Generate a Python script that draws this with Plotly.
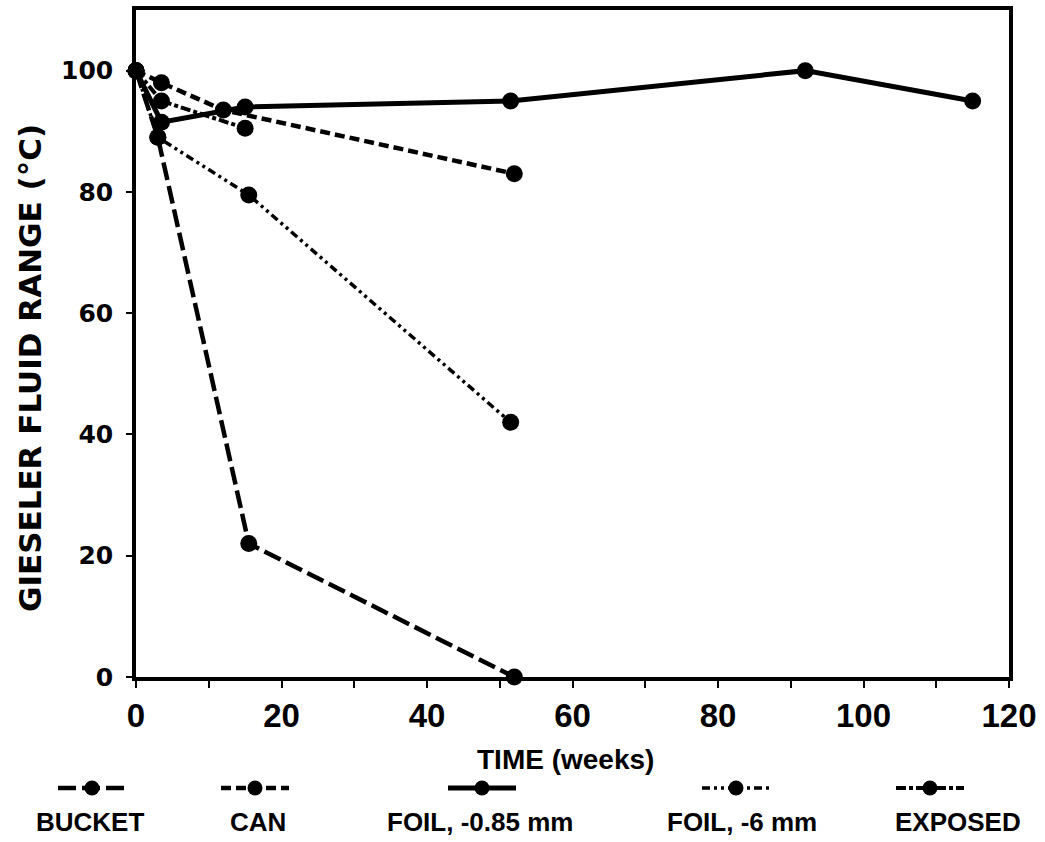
import plotly.graph_objects as go

# ---- data ----
series_names = ["BUCKET", "CAN", "FOIL, -0.85 mm", "FOIL, -6 mm", "EXPOSED"]
bucket_weeks = [0, 3, 15.5, 52]
bucket_range = [100, 89, 22, 0]
can_weeks = [0, 3.5, 12, 52]
can_range = [100, 98, 93.5, 83]
foil085_weeks = [0, 3.5, 15, 51.5, 92, 115]
foil085_range = [100, 91.5, 94, 95, 100, 95]
foil6_weeks = [0, 3, 15.5, 51.5]
foil6_range = [100, 89, 79.5, 42]
exposed_weeks = [0, 3.5, 15]
exposed_range = [100, 95, 90.5]

x_ticks = [0, 20, 40, 60, 80, 100, 120]
y_ticks = [0, 20, 40, 60, 80, 100]

W, H = 1045, 842
FONT = "Liberation Sans"
WIDE = "DejaVu Sans"

dashes = ["18px,6px", "10px,5px", "solid", "8px,4px,3px,4px,3px,4px", "10px,3px,4px,3px"]
widths = [4.5, 4.5, 5, 3.5, 4]
weeks = [bucket_weeks, can_weeks, foil085_weeks, foil6_weeks, exposed_weeks]
vals = [bucket_range, can_range, foil085_range, foil6_range, exposed_range]

fig = go.Figure()
for name, xs, ys, d, w in zip(series_names, weeks, vals, dashes, widths):
    fig.add_trace(go.Scatter(
        x=xs, y=ys, name=name, mode="lines+markers",
        line=dict(color="black", width=w, dash=d),
        marker=dict(color="black", size=17),
        showlegend=False, cliponaxis=False,
    ))

# ---- custom legend (sample above the label) ----
legend_sample_x = [92, 255, 482, 736, 930]
legend_text_x = [90, 258, 480, 742, 958]
sample_half = 34
for name, cx, tx, d, w in zip(series_names, legend_sample_x, legend_text_x, dashes, widths):
    fig.add_trace(go.Scatter(
        x=[cx - sample_half, cx + sample_half], y=[54, 54], mode="lines",
        line=dict(color="black", width=w, dash=d),
        xaxis="x2", yaxis="y2", showlegend=False, hoverinfo="skip",
    ))
    fig.add_trace(go.Scatter(
        x=[cx], y=[54], mode="markers", marker=dict(color="black", size=15),
        xaxis="x2", yaxis="y2", showlegend=False, hoverinfo="skip",
    ))
    fig.add_annotation(x=tx, y=20, xref="x2", yref="y2", text=name, showarrow=False,
                       xanchor="center", yanchor="middle",
                       font=dict(family=FONT, size=26, color="black", weight="bold"))

# axis titles
fig.add_annotation(x=565 / W, y=(H - 759) / H, xref="paper", yref="paper",
                   text="TIME (weeks)", showarrow=False,
                   xanchor="center", yanchor="middle",
                   font=dict(family=FONT, size=28, color="black", weight="bold"))
fig.add_annotation(x=30 / W, y=(H - 368) / H, xref="paper", yref="paper",
                   text="GIESELER FLUID RANGE (°C)", showarrow=False, textangle=-90,
                   xanchor="center", yanchor="middle",
                   font=dict(family=WIDE, size=31, color="black", weight="bold"))

x0, x1 = 136 / W, 1009 / W
y0, y1 = (H - 677) / H, (H - 10) / H

fig.update_layout(
    width=W, height=H,
    margin=dict(l=0, r=0, t=0, b=0, autoexpand=False),
    paper_bgcolor="white", plot_bgcolor="white",
    font=dict(family=FONT, color="black"),
    xaxis=dict(
        domain=[x0, x1], range=[0, 120], tickvals=x_ticks, automargin=False,
        ticks="outside", ticklen=7, tickwidth=2, tickcolor="black",
        minor=dict(dtick=10, ticks="outside", ticklen=7, tickwidth=2, tickcolor="black"),
        showline=True, linewidth=3.5, linecolor="black", mirror=True,
        showgrid=False, zeroline=False, ticklabelstandoff=0,
        tickfont=dict(family=FONT, size=33, color="black", weight="bold"),
        anchor="y",
    ),
    yaxis=dict(
        domain=[y0, y1], range=[0, 110], tickvals=y_ticks, automargin=False,
        ticks="outside", ticklen=6, tickwidth=2, tickcolor="black",
        showline=True, linewidth=3.5, linecolor="black", mirror=True,
        showgrid=False, zeroline=False, ticklabelstandoff=8,
        tickfont=dict(family=WIDE, size=25, color="black", weight="bold"),
        anchor="x",
    ),
    xaxis2=dict(domain=[0, 1], range=[0, W], visible=False, anchor="y2",
                fixedrange=True, automargin=False),
    yaxis2=dict(domain=[0, 160 / H], range=[0, 160], visible=False, anchor="x2",
                fixedrange=True, automargin=False),
)

fig.write_html("out.html")
